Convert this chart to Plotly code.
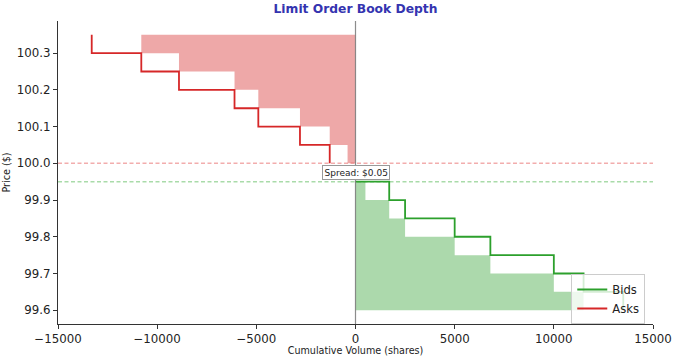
import plotly.graph_objects as go

# ---------------- data ----------------
ask_prices = [100.00, 100.05, 100.10, 100.15, 100.20, 100.25, 100.30, 100.35]
ask_cum = [400, 1300, 2800, 4900, 6100, 8900, 10800, 13300]
bid_prices = [99.95, 99.90, 99.85, 99.80, 99.75, 99.70, 99.65, 99.60]
bid_cum = [500, 1700, 2500, 5000, 6800, 10000, 11500, 13500]

x_ticks = [-15000, -10000, -5000, 0, 5000, 10000, 15000]
y_ticks = [99.6, 99.7, 99.8, 99.9, 100.0, 100.1, 100.2, 100.3]
x_range = [-15000, 15000]

TITLE = "Limit Order Book Depth"
XLABEL = "Cumulative Volume (shares)"
YLABEL = "Price ($)"

RED = "#d62728"
GREEN = "#2ca02c"
RED_FILL = "#eea8a8"
GREEN_FILL = "#acd9ac"
FONT = "DejaVu Sans"


def fill_polygon(prices, cum, sign):
    xs, ys = [0, sign * cum[0]], [prices[0], prices[0]]
    for i in range(len(prices) - 1):
        xs += [sign * cum[i], sign * cum[i]]
        ys += [prices[i], prices[i + 1]]
        if i + 1 < len(prices) - 1:
            xs.append(sign * cum[i + 1])
            ys.append(prices[i + 1])
    xs.append(0)
    ys.append(prices[-1])
    xs.append(0)
    ys.append(prices[0])
    return xs, ys


def step_line(prices, cum, sign, lead_from_zero):
    xs, ys = [], []
    if lead_from_zero:
        xs.append(0)
        ys.append(prices[0])
    for i in range(len(prices) - 1):
        xs += [sign * cum[i + 1], sign * cum[i + 1]]
        ys += [prices[i], prices[i + 1]]
    return xs, ys


fig = go.Figure()

ax_, ay_ = fill_polygon(ask_prices, ask_cum, -1)
bx_, by_ = fill_polygon(bid_prices, bid_cum, 1)
fig.add_trace(go.Scatter(x=ax_, y=ay_, mode="lines", fill="toself", fillcolor=RED_FILL,
                         line=dict(width=0), showlegend=False, hoverinfo="skip"))
fig.add_trace(go.Scatter(x=bx_, y=by_, mode="lines", fill="toself", fillcolor=GREEN_FILL,
                         line=dict(width=0), showlegend=False, hoverinfo="skip"))

blx, bly = step_line(bid_prices, bid_cum, 1, True)
alx, aly = step_line(ask_prices, ask_cum, -1, False)
fig.add_trace(go.Scatter(x=blx, y=bly, mode="lines", name="Bids",
                         line=dict(color=GREEN, width=1.8)))
fig.add_trace(go.Scatter(x=alx, y=aly, mode="lines", name="Asks",
                         line=dict(color=RED, width=1.8)))

best_ask = min(ask_prices)
best_bid = max(bid_prices)
spread = best_ask - best_bid

fig.add_shape(type="line", xref="paper", x0=0, x1=1, y0=best_ask, y1=best_ask,
              line=dict(color="rgba(225,60,60,0.42)", width=1.4, dash="4px,2.5px"))
fig.add_shape(type="line", xref="paper", x0=0, x1=1, y0=best_bid, y1=best_bid,
              line=dict(color="rgba(50,170,50,0.42)", width=1.4, dash="4px,2.5px"))
fig.add_shape(type="line", yref="paper", x0=0, x1=0, y0=0, y1=1,
              line=dict(color="rgba(120,120,120,0.85)", width=1.2))

fig.add_annotation(x=0, y=(best_ask + best_bid) / 2, text=f"Spread: ${spread:.2f}",
                   showarrow=False, font=dict(family=FONT, size=9, color="#222"),
                   bgcolor="white", bordercolor="#999", borderwidth=1, borderpad=1.5)

lo, hi = min(bid_prices), max(ask_prices)
pad = 0.05 * (hi - lo)

fig.update_layout(
    width=673, height=356,
    margin=dict(l=58, r=20, t=21, b=32),
    paper_bgcolor="white", plot_bgcolor="white",
    font=dict(family=FONT, size=11.8, color="#222"),
    title=dict(text=f"<b>{TITLE}</b>", x=(58 + 653) / 2 / 673, xanchor="center",
               y=1 - 9 / 356, yanchor="middle",
               font=dict(family=FONT, size=12.3, color="#3434b0")),
    showlegend=True,
    legend=dict(x=0.987, xanchor="right", y=0.0, yanchor="bottom",
                bgcolor="rgba(255,255,255,0.8)", bordercolor="#cccccc", borderwidth=1,
                font=dict(family=FONT, size=11.6, color="#222"), tracegroupgap=0,
                itemwidth=30),
    xaxis=dict(range=x_range, tickvals=x_ticks,
               ticktext=[f"{v}".replace("-", "\u2212") for v in x_ticks],
               showgrid=False, zeroline=False, showline=True, linecolor="#333", linewidth=1.1,
               ticks="outside", ticklen=4, tickcolor="#333", tickwidth=1,
               title=dict(text=XLABEL, font=dict(family=FONT, size=9.6, color="#222"), standoff=2),
               automargin=False),
    yaxis=dict(range=[lo - pad, hi + pad], tickvals=y_ticks,
               ticktext=[f"{v:.1f}" for v in y_ticks],
               showgrid=False, zeroline=False, showline=True, linecolor="#333", linewidth=1.1,
               ticks="outside", ticklen=4, tickcolor="#333", tickwidth=1,
               title=dict(text=YLABEL, font=dict(family=FONT, size=9.6, color="#222"), standoff=4),
               automargin=False),
)

fig.write_html("out.html", config={"displayModeBar": False},
               post_script="document.body.style.margin='0';document.body.style.overflow='hidden';")
